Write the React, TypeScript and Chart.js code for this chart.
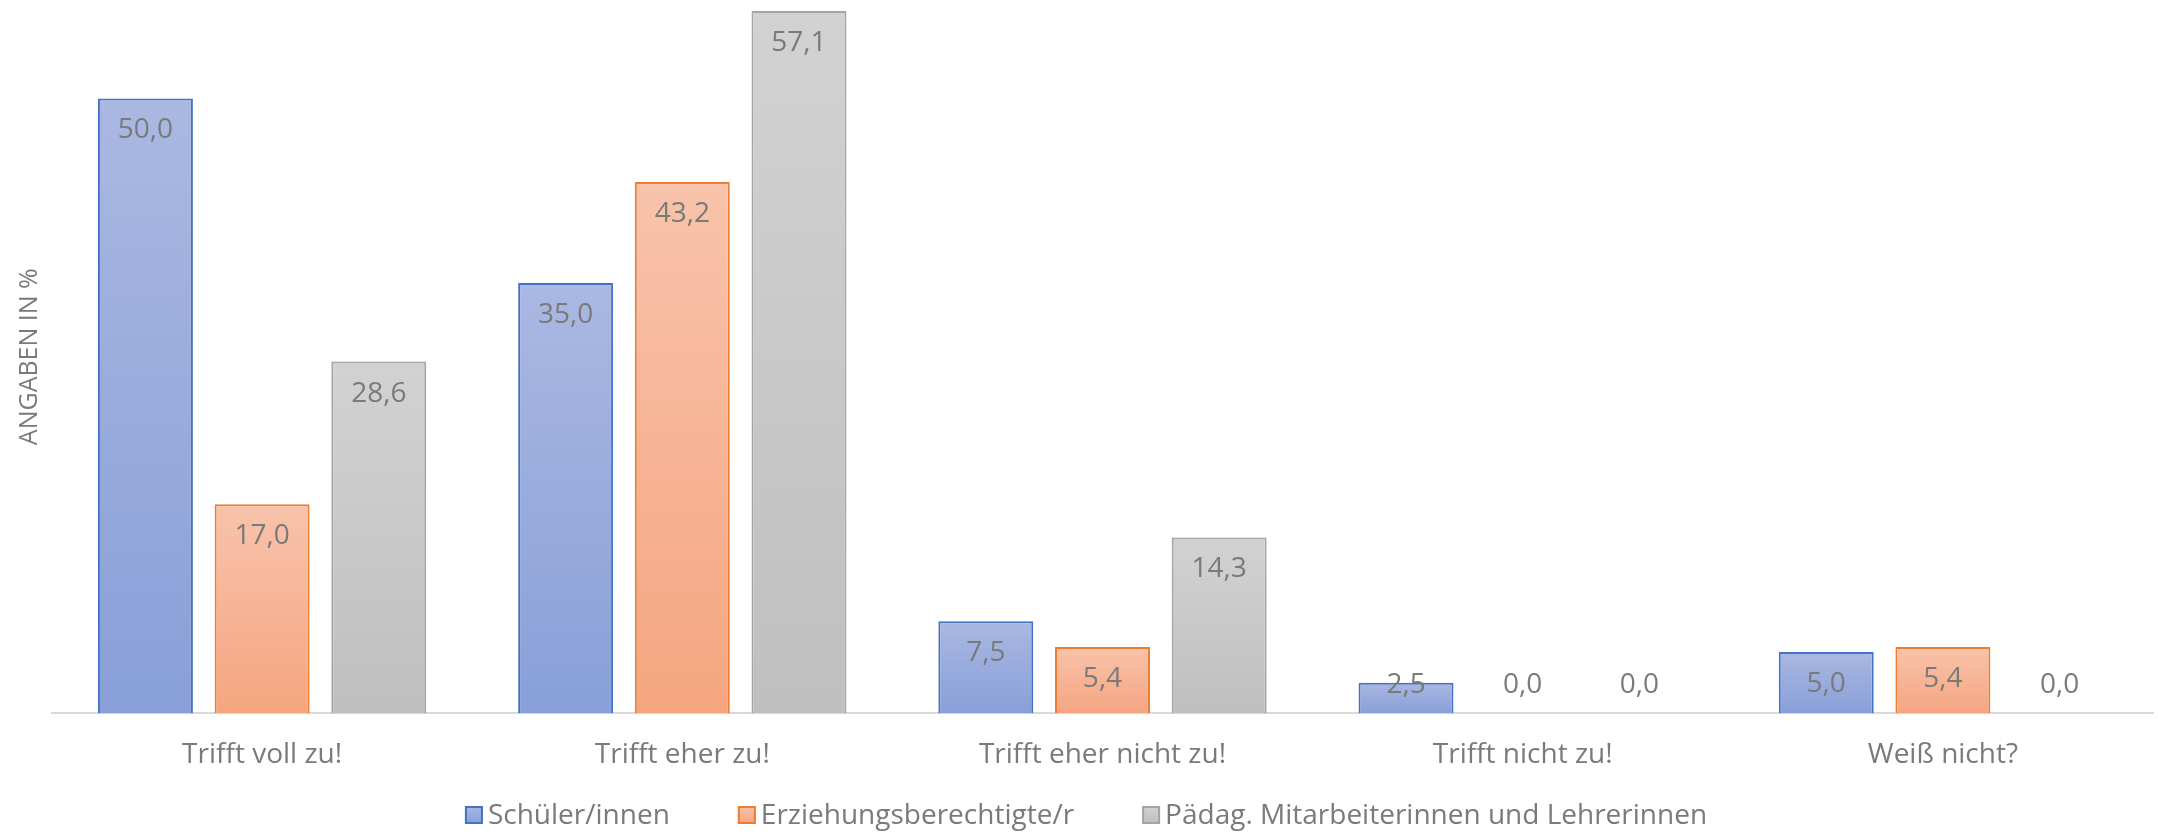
import React, { useEffect, useRef } from "react";
import { Chart, registerables } from "chart.js";

Chart.register(...registerables);

// ---- data ----
const categories = [
  "Trifft voll zu!",
  "Trifft eher zu!",
  "Trifft eher nicht zu!",
  "Trifft nicht zu!",
  "Weiß nicht?",
];
const schuelerValues = [50.0, 35.0, 7.5, 2.5, 5.0];
const elternValues = [17.0, 43.2, 5.4, 0.0, 5.4];
const paedagValues = [28.6, 57.1, 14.3, 0.0, 0.0];
const seriesNames = [
  "Schüler/innen",
  "Erziehungsberechtigte/r",
  "Pädag. Mitarbeiterinnen und Lehrerinnen",
];
const yAxisTitle = "ANGABEN IN %";
const yMax = 58;

// ---- styles ----
const FONT = '"Open Sans", "Noto Sans", sans-serif';
const TEXT = "#7a7a7a";
const palette = [
  { border: "#4472c4", top: "#aab8e2", bottom: "#889fd8" },
  { border: "#ed7d31", top: "#f8c3ab", bottom: "#f5a580" },
  { border: "#a5a5a5", top: "#d2d2d2", bottom: "#bfbfbf" },
];

function barFill(idx: number) {
  return (ctx: any) => {
    const chart = ctx.chart;
    const p = palette[idx];
    if (!chart.chartArea || ctx.type !== "data" || !chart.scales.y) return p.bottom;
    const yScale = chart.scales.y;
    const v = ctx.raw as number;
    const top = yScale.getPixelForValue(v);
    const base = yScale.getPixelForValue(0);
    if (base - top < 1) return p.bottom;
    const g = chart.ctx.createLinearGradient(0, top, 0, base);
    g.addColorStop(0, p.top);
    g.addColorStop(1, p.bottom);
    return g;
  };
}

const dataLabelPlugin = {
  id: "dataLabels",
  afterDatasetsDraw(chart: any) {
    const ctx = chart.ctx;
    ctx.save();
    ctx.font = `28px ${FONT}`;
    ctx.fillStyle = TEXT;
    ctx.textAlign = "center";
    ctx.textBaseline = "middle";
    chart.data.datasets.forEach((ds: any, di: number) => {
      const meta = chart.getDatasetMeta(di);
      meta.data.forEach((el: any, i: number) => {
        const v = ds.data[i] as number;
        const { x, y, base } = el.getProps(["x", "y", "base"], true);
        const ly = Math.min(y + 32, base - 28);
        ctx.fillText(v.toFixed(1).replace(".", ","), x, ly);
      });
    });
    ctx.restore();
  },
};

const legendPlugin = {
  id: "customLegend",
  afterDraw(chart: any) {
    const ctx = chart.ctx;
    ctx.save();
    ctx.font = `28px ${FONT}`;
    ctx.textBaseline = "middle";
    ctx.textAlign = "left";
    const box = 18;
    const boxGap = 5;
    const itemGap = 68;
    const items = chart.data.datasets.map((ds: any, i: number) => ({
      text: ds.label as string,
      w: ctx.measureText(ds.label).width,
      p: palette[i],
    }));
    const total =
      items.reduce((s: number, it: any) => s + box + boxGap + it.w, 0) +
      itemGap * (items.length - 1);
    const cy = chart.height - 17;
    let x = chart.width / 2 + 7 - total / 2;
    items.forEach((it: any) => {
      const g = ctx.createLinearGradient(0, cy - box / 2, 0, cy + box / 2);
      g.addColorStop(0, it.p.top);
      g.addColorStop(1, it.p.bottom);
      ctx.fillStyle = g;
      ctx.fillRect(x, cy - box / 2, box, box);
      ctx.strokeStyle = it.p.border;
      ctx.lineWidth = 2;
      ctx.strokeRect(x + 1, cy - box / 2 + 1, box - 2, box - 2);
      ctx.fillStyle = TEXT;
      ctx.fillText(it.text, x + box + boxGap, cy + 1);
      x += box + boxGap + it.w + itemGap;
    });
    ctx.restore();
  },
};

export default function App() {
  const canvasRef = useRef<HTMLCanvasElement | null>(null);

  useEffect(() => {
    let chart: Chart | null = null;
    let cancelled = false;
    const make = () => {
      if (cancelled || !canvasRef.current) return;
      const values = [schuelerValues, elternValues, paedagValues];
      chart = new Chart(canvasRef.current, {
        type: "bar",
        data: {
          labels: categories,
          datasets: values.map((vals, i) => ({
            label: seriesNames[i],
            data: vals,
            backgroundColor: barFill(i),
            borderColor: palette[i].border,
            borderWidth: 2,
            borderSkipped: "start",
            categoryPercentage: 0.833,
            barPercentage: 0.814,
          })),
        },
        options: {
          responsive: false,
          animation: false,
          devicePixelRatio: 1,
          layout: { padding: { left: 8, right: 5, top: 0, bottom: 35 } },
          plugins: {
            legend: { display: false },
            tooltip: { enabled: false },
            title: { display: false },
          },
          scales: {
            x: {
              grid: { display: false, drawTicks: false },
              border: { display: true, color: "#d9d9d9", width: 2 },
              ticks: {
                color: TEXT,
                font: { family: FONT, size: 28 },
                padding: 25,
                maxRotation: 0,
                autoSkip: false,
              },
            },
            y: {
              min: 0,
              max: yMax,
              grid: { display: false, drawTicks: false, tickLength: 0 },
              border: { display: false },
              ticks: { display: false },
              title: {
                display: true,
                text: yAxisTitle,
                color: TEXT,
                font: { family: FONT, size: 25 },
                padding: { top: 7, bottom: 7 },
              },
            },
          },
        },
        plugins: [dataLabelPlugin, legendPlugin],
      } as any);
    };
    const fonts: any = (document as any).fonts;
    if (fonts && fonts.load) {
      Promise.all([
        fonts.load(`28px "Open Sans"`),
        fonts.load(`25px "Open Sans"`),
      ])
        .catch(() => {})
        .then(make);
    } else {
      make();
    }
    return () => {
      cancelled = true;
      if (chart) chart.destroy();
    };
  }, []);

  return (
    <div
      style={{
        position: "absolute",
        left: 0,
        top: 0,
        width: 2158,
        height: 832,
        background: "#ffffff",
      }}
    >
      <canvas ref={canvasRef} width={2158} height={832} />
    </div>
  );
}
